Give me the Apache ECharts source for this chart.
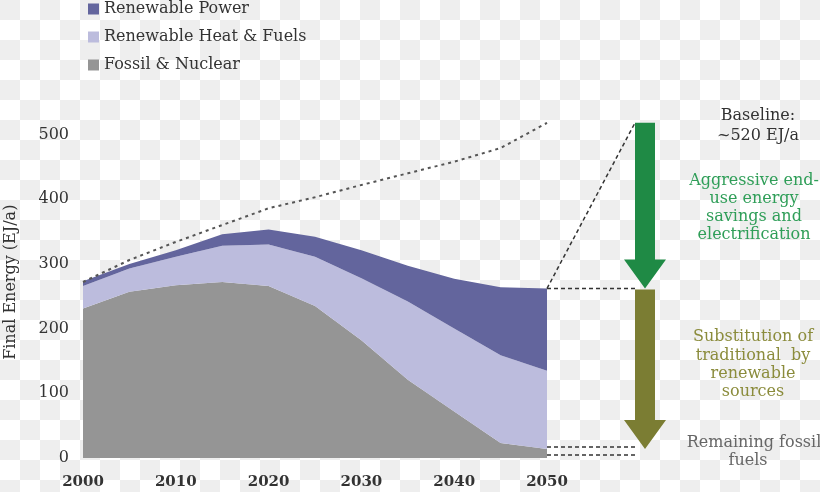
<!DOCTYPE html>
<html><head><meta charset="utf-8">
<script src="https://cdn.jsdelivr.net/npm/echarts@6/dist/echarts.min.js"></script>
<style>
html,body{margin:0;padding:0;width:820px;height:492px;overflow:hidden;background-color:#ffffff;
background-image:url("data:image/svg+xml,%3Csvg xmlns='http://www.w3.org/2000/svg' width='40' height='40'%3E%3Crect width='40' height='40' fill='%23ffffff'/%3E%3Crect width='20' height='20' fill='%23eeeeee'/%3E%3Crect x='20' y='20' width='20' height='20' fill='%23eeeeee'/%3E%3C/svg%3E");
background-size:40px 40px;background-repeat:repeat;}
#c{width:820px;height:492px;}
</style></head><body><div id="c"></div>
<script>
// ---- data ----
const years = ['2000','2005','2010','2015','2020','2025','2030','2035','2040','2045','2050'];
const fossilNuclear      = [231, 257, 267, 272, 266, 235, 182, 121, 72, 23, 14];
const renewableHeatFuels = [35, 36, 44, 56, 64, 76, 96, 121, 128, 136, 121];
const renewablePower     = [7, 7, 10, 18, 23, 31, 43, 55, 77, 105, 127];
const baseline           = [272, 306, 334, 360, 386, 403, 422, 440, 458, 479, 518];
const seriesNames = ['Renewable Power', 'Renewable Heat & Fuels', 'Fossil & Nuclear'];
const yMin = 0, yMax = 500, yStep = 100;

const FONT = '"DejaVu Serif", Georgia, serif';
const chart = echarts.init(document.getElementById('c'), null, {renderer: 'canvas'});

chart.setOption({
  backgroundColor: 'transparent',
  animation: false,
  grid: {left: 83, right: 273, top: 134.5, bottom: 34, containLabel: false, outerBoundsMode: 'none'},
  legend: {
    data: seriesNames,
    orient: 'vertical', left: 88, top: 0, padding: 0,
    icon: 'rect', itemWidth: 11, itemHeight: 11, itemGap: 10,
    textStyle: {fontFamily: FONT, fontSize: 16, color: '#333', lineHeight: 18}
  },
  xAxis: {
    type: 'category', data: years, boundaryGap: false,
    axisLine: {show: false}, axisTick: {show: false}, splitLine: {show: false},
    axisLabel: {interval: 1, margin: 17, fontFamily: FONT, fontSize: 15, fontWeight: 'bold', color: '#333'}
  },
  yAxis: {
    type: 'value', min: yMin, max: yMax, interval: yStep,
    name: 'Final Energy (EJ/a)', nameLocation: 'middle', nameGap: 64, nameRotate: 90,
    nameTextStyle: {fontFamily: FONT, fontSize: 16, color: '#333', padding: [0, 0, 0, 28]},
    axisLine: {show: false}, axisTick: {show: false}, splitLine: {show: false},
    axisLabel: {margin: 14, fontFamily: FONT, fontSize: 16, color: '#333'}
  },
  series: [
    {name: seriesNames[2], type: 'line', stack: 'total', data: fossilNuclear, symbol: 'none',
     lineStyle: {width: 0}, itemStyle: {color: '#959595'}, areaStyle: {color: '#959595', opacity: 1}},
    {name: seriesNames[1], type: 'line', stack: 'total', data: renewableHeatFuels, symbol: 'none',
     lineStyle: {width: 0}, itemStyle: {color: '#bcbcdd'}, areaStyle: {color: '#bcbcdd', opacity: 1}},
    {name: seriesNames[0], type: 'line', stack: 'total', data: renewablePower, symbol: 'none',
     lineStyle: {width: 0}, itemStyle: {color: '#63659d'}, areaStyle: {color: '#63659d', opacity: 1}},
    {name: 'Baseline', type: 'line', data: baseline, symbol: 'none', clip: false, z: 5,
     lineStyle: {color: '#555', width: 2, type: [3, 4]}}
  ]
});

// ---- annotations tied to the data scale ----
const last = years.length - 1;
const total2050 = fossilNuclear[last] + renewableHeatFuels[last] + renewablePower[last];
const yPx = v => chart.convertToPixel({yAxisIndex: 0}, v);
const xEnd = chart.convertToPixel({xAxisIndex: 0}, last);
const yBase = yPx(baseline[last]);
const yTot = yPx(total2050);
const yFos = yPx(fossilNuclear[last]);
const yZero = yPx(0);

const ax = 645, shaftHalf = 10, headHalf = 21, headLen = 29;
function arrow(y0, y1, color) {
  return {type: 'polygon', z: 10, shape: {points: [
    [ax - shaftHalf, y0], [ax + shaftHalf, y0], [ax + shaftHalf, y1 - headLen],
    [ax + headHalf, y1 - headLen], [ax, y1], [ax - headHalf, y1 - headLen], [ax - shaftHalf, y1 - headLen]
  ]}, style: {fill: color}};
}
function dash(x1, y1, x2, y2) {
  return {type: 'line', z: 9, shape: {x1, y1, x2, y2},
    style: {stroke: '#333', lineWidth: 1.5, lineDash: [4, 3]}};
}
function txt(t, x, y, color) {
  return {type: 'text', z: 11, style: {text: t, x, y, align: 'center', verticalAlign: 'middle',
    font: '16px ' + FONT, fill: color}};
}
const g = [
  dash(xEnd, yTot, ax - shaftHalf, yBase),
  dash(xEnd, yTot, ax - shaftHalf, yTot),
  dash(xEnd, yFos - 2, ax - 8, yFos - 2),
  dash(xEnd, yZero - 3, ax - 8, yZero - 3),
  arrow(yBase, yTot, '#1f8a45'),
  arrow(yTot + 1, yFos, '#7b7d33'),
  txt('Baseline:', 758, 116, '#333'),
  txt('~520 EJ/a', 758, 136, '#333'),
  txt('Aggressive end-', 754, 181, '#2f9e58'),
  txt('use energy', 754, 199, '#2f9e58'),
  txt('savings and', 754, 217, '#2f9e58'),
  txt('electrification', 754, 235, '#2f9e58'),
  txt('Substitution of', 753, 337, '#8b8c3c'),
  txt('traditional  by', 753, 356, '#8b8c3c'),
  txt('renewable', 753, 374, '#8b8c3c'),
  txt('sources', 753, 392, '#8b8c3c'),
  txt('Remaining fossil', 754, 443, '#666'),
  txt('fuels', 748, 461, '#666')
];
chart.setOption({graphic: g});
</script></body></html>
